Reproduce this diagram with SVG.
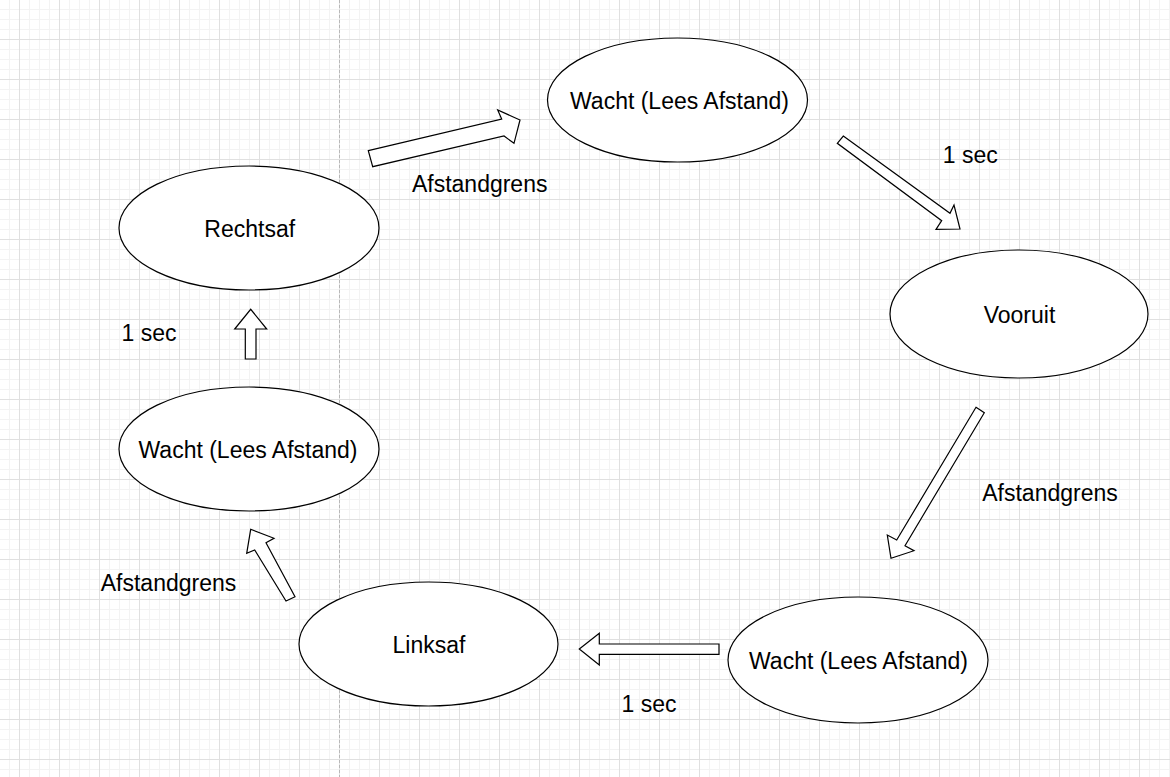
<svg xmlns="http://www.w3.org/2000/svg" width="1170" height="777" viewBox="0 0 1170 777">
  <defs>
    <pattern id="minor" patternUnits="userSpaceOnUse" x="9" y="9" width="10" height="10">
      <path d="M0.5 0V10M0 0.5H10" stroke="#f3f3f3" stroke-width="1" fill="none"/>
    </pattern>
    <pattern id="major" patternUnits="userSpaceOnUse" x="19" y="39" width="40" height="40">
      <path d="M0.5 0V40M0 0.5H40" stroke="#e0e0e0" stroke-width="1" fill="none"/>
    </pattern>
    <style>
      .node ellipse { fill: #ffffff; stroke: #000000; stroke-width: 1.2; }
      .node text, .label { font-family: "Liberation Sans", Arial, Helvetica, sans-serif; font-size: 23px; fill: #000000; text-anchor: middle; }
      .arrow { fill: #ffffff; stroke: #000000; stroke-width: 1.2; stroke-linejoin: miter; }
    </style>
  </defs>

  <rect width="1170" height="777" fill="#ffffff"/>
  <rect width="1170" height="777" fill="url(#minor)"/>
  <rect width="1170" height="777" fill="url(#major)"/>
  <line x1="339.5" y1="0" x2="339.5" y2="777" stroke="#b8b8b8" stroke-width="1" stroke-dasharray="3 2"/>

  <g id="connectors">
    <polygon class="arrow" points="368.3,150.7 501.7,119 497.7,110 520,120 514,143.3 504,136 372.7,166.7"/>
    <polygon class="arrow" points="843.3,136 950,213.3 954,205 960,229 936,229.3 941.7,220.7 837.3,143.3"/>
    <polygon class="arrow" points="976,407.3 984.3,412.7 905,545.7 914,550.7 891,558.3 887.3,535 896.7,540"/>
    <polygon class="arrow" points="719,644 599.3,644 599.3,633.3 579.3,649 599.3,665 599.3,654.3 719,654.3"/>
    <polygon class="arrow" points="245.3,359 245.3,329 234.7,329 250.7,309.3 266.7,329 256,329 256,359"/>
    <polygon class="arrow" points="250.7,529.3 274,538.3 266,542.7 295,596.7 286,601 254.7,550 246.7,553.3"/>
  </g>

  <g id="edge-labels">
    <text class="label" x="479.7" y="191.7">Afstandgrens</text>
    <text class="label" x="970.3" y="162.5">1 sec</text>
    <text class="label" x="1050" y="501">Afstandgrens</text>
    <text class="label" x="649" y="712">1 sec</text>
    <text class="label" x="168.5" y="591">Afstandgrens</text>
    <text class="label" x="149" y="341">1 sec</text>
  </g>

  <g id="node-wacht-top" class="node">
    <ellipse cx="677.5" cy="100" rx="130" ry="62"/>
    <text x="679.5" y="108.5">Wacht (Lees Afstand)</text>
  </g>
  <g id="node-vooruit" class="node">
    <ellipse cx="1019" cy="314" rx="129" ry="64"/>
    <text x="1019.5" y="322.5">Vooruit</text>
  </g>
  <g id="node-wacht-right" class="node">
    <ellipse cx="858" cy="660" rx="130" ry="63"/>
    <text x="858.5" y="668.5">Wacht (Lees Afstand)</text>
  </g>
  <g id="node-linksaf" class="node">
    <ellipse cx="428.5" cy="644" rx="129.5" ry="62"/>
    <text x="429" y="652.5">Linksaf</text>
  </g>
  <g id="node-wacht-left" class="node">
    <ellipse cx="249" cy="449" rx="130" ry="62"/>
    <text x="248" y="457.5">Wacht (Lees Afstand)</text>
  </g>
  <g id="node-rechtsaf" class="node">
    <ellipse cx="249" cy="228" rx="130" ry="62"/>
    <text x="249.7" y="236.7">Rechtsaf</text>
  </g>
</svg>
